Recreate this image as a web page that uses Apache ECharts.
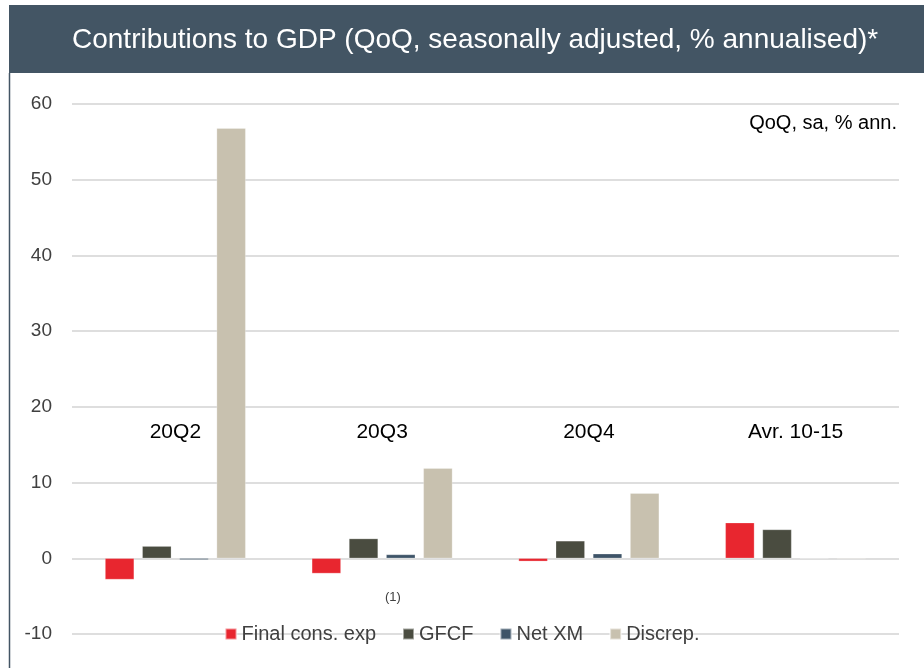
<!DOCTYPE html>
<html>
<head>
<meta charset="utf-8">
<script src="https://cdn.jsdelivr.net/npm/echarts@6/dist/echarts.min.js"></script>
<style>
  html, body { margin: 0; padding: 0; background: #fff; }
  #chart { width: 924px; height: 668px; }
</style>
</head>
<body>
<div id="chart"></div>
<script>
// chart data
const categories = ['20Q2', '20Q3', '20Q4', 'Avr. 10-15'];
const finalConsExp = [-2.8, -2.0, -0.4, 4.7];
const gfcf = [1.6, 2.6, 2.3, 3.8];
const netXM = [-0.2, 0.5, 0.6, 0.05];
const discrep = [56.8, 11.9, 8.6, -0.1];
const yTicks = [-10, 0, 10, 20, 30, 40, 50, 60];

const font = 'Liberation Sans, Arial, sans-serif';

const chart = echarts.init(document.getElementById('chart'));

const makeBar = (name, data, color) => ({
  name: name,
  type: 'bar',
  data: data,
  barGap: '28%',
  barCategoryGap: '32%',
  itemStyle: { color: color, borderColor: 'rgba(255,255,255,0.5)', borderWidth: 0.5 },
  emphasis: { disabled: true },
});

const option = {
  animation: false,
  textStyle: { fontFamily: font },
  title: {
    text: 'Contributions to GDP (QoQ, seasonally adjusted, % annualised)*',
    left: 67,
    top: 21,
    textStyle: { color: '#ffffff', fontSize: 28, fontWeight: 'normal', fontFamily: font },
  },
  graphic: [
    {
      type: 'rect', z: -1,
      shape: { x: 9, y: 5, width: 915, height: 68 },
      style: { fill: '#435564' },
    },
    {
      type: 'line',
      shape: { x1: 9.5, y1: 73, x2: 9.5, y2: 668 },
      style: { stroke: '#435564', lineWidth: 1.5 },
    },
    {
      type: 'text',
      right: 27, top: 113,
      style: { text: 'QoQ, sa, % ann.', fill: '#000000', fontSize: 20, fontFamily: font },
    },
    {
      type: 'text',
      left: 385, top: 591,
      style: { text: '(1)', fill: '#404040', fontSize: 13, fontFamily: font },
    },
  ],
  legend: {
    data: ['Final cons. exp', 'GFCF', 'Net XM', 'Discrep.'],
    left: 'center',
    top: 619,
    icon: 'rect',
    itemWidth: 11,
    itemHeight: 11,
    itemGap: 26,
    textStyle: { color: '#404040', fontSize: 20, fontFamily: font },
  },
  grid: { left: 72, right: 25, top: 104, bottom: 34, containLabel: false },
  xAxis: {
    type: 'category',
    data: categories,
    axisLine: { show: false, onZero: false },
    axisTick: { show: false },
    axisLabel: { color: '#000000', fontSize: 21, fontFamily: font, margin: -212 },
    splitLine: { show: false },
  },
  yAxis: {
    type: 'value',
    min: yTicks[0],
    max: yTicks[yTicks.length - 1],
    interval: 10,
    axisLine: { show: false },
    axisTick: { show: false },
    axisLabel: { color: '#404040', fontSize: 19, fontFamily: font, margin: 20 },
    splitLine: { lineStyle: { color: '#dedede', width: 2 } },
  },
  series: [
    makeBar('Final cons. exp', finalConsExp, '#e8262f'),
    makeBar('GFCF', gfcf, '#4a4c40'),
    makeBar('Net XM', netXM, '#3e5468'),
    makeBar('Discrep.', discrep, '#c8c1af'),
  ],
};

chart.setOption(option);
</script>
</body>
</html>
